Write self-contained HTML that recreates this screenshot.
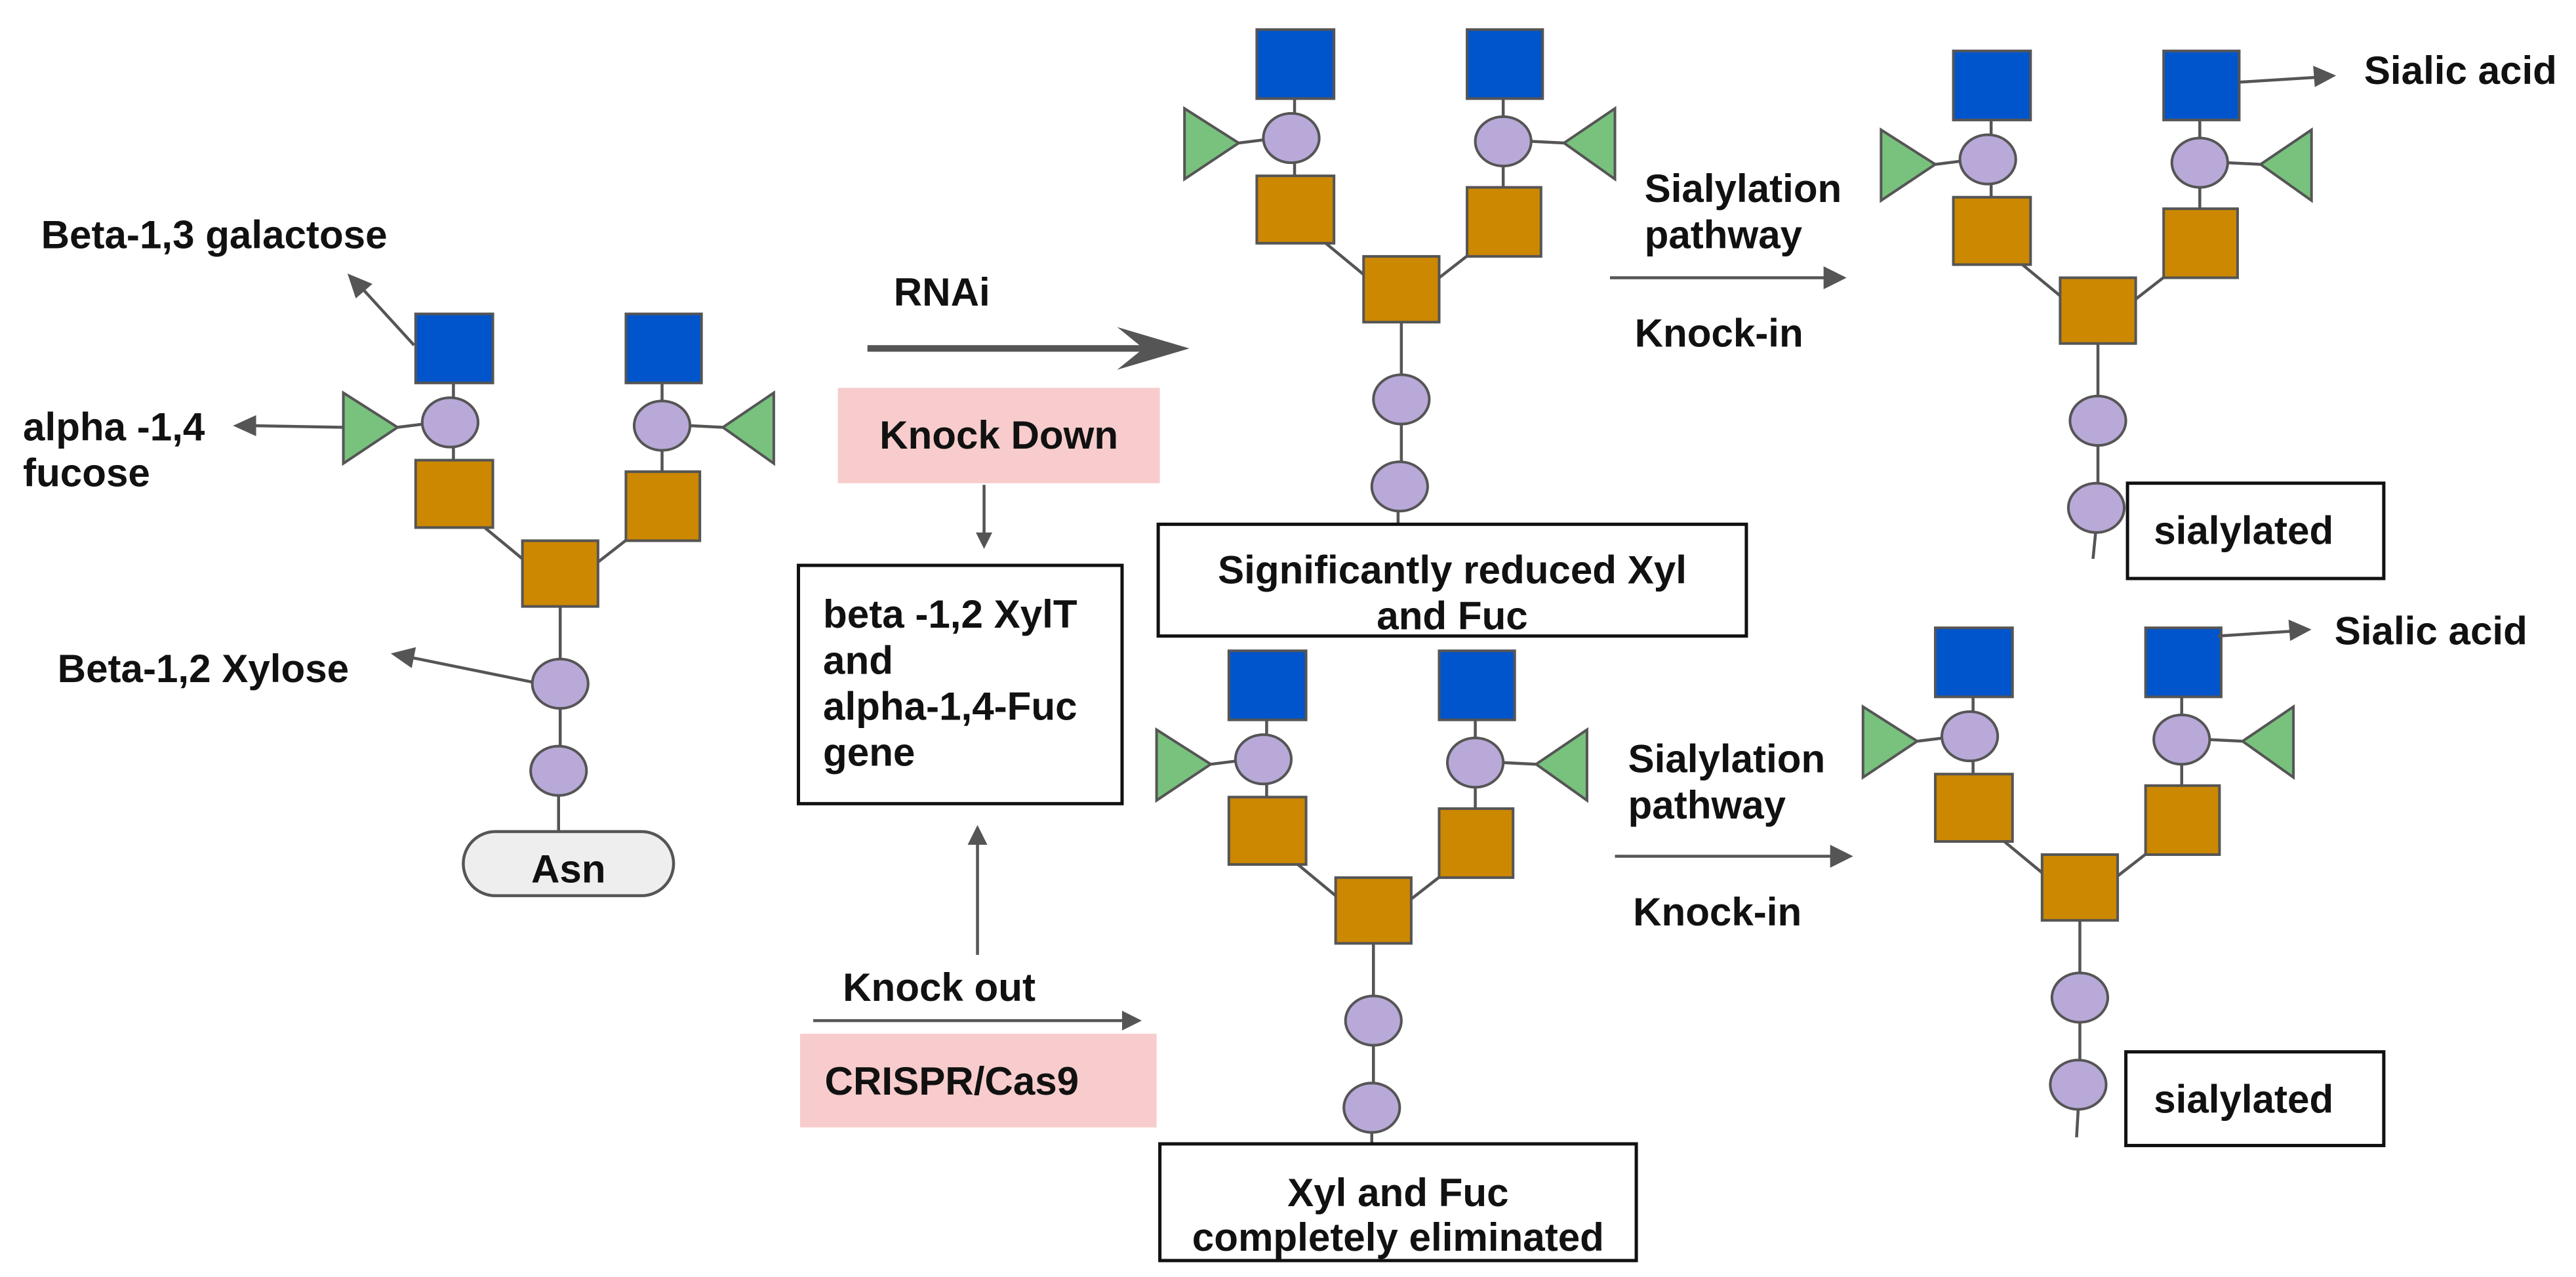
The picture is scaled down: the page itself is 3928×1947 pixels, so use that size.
<!DOCTYPE html>
<html><head><meta charset="utf-8"><style>
html,body{margin:0;padding:0;background:#fff}
svg{display:block}
text{font-family:"Liberation Sans",Arial,sans-serif;font-weight:bold;font-size:24px;fill:#111}
</style></head><body>
<svg width="3928" height="1947" viewBox="0 0 1568 777" preserveAspectRatio="none" xmlns="http://www.w3.org/2000/svg">
<defs>
<marker id="ah" viewBox="0 0 10 10" refX="9" refY="5" markerWidth="5" markerHeight="5" orient="auto" markerUnits="userSpaceOnUse">
</marker>
<g id="gly">
 <g stroke="#555" stroke-width="1.8" fill="none">
  <line x1="276" y1="233" x2="276" y2="280"/>
  <line x1="403" y1="233" x2="403" y2="287"/>
  <line x1="242" y1="260" x2="258" y2="258"/>
  <line x1="420" y1="259" x2="440" y2="260"/>
  <line x1="295" y1="321" x2="318" y2="340"/>
  <line x1="382" y1="328" x2="364" y2="342"/>
  <line x1="341" y1="369" x2="341" y2="470"/>
 </g>
 <g stroke="#555" stroke-width="1.6">
  <rect x="253" y="191" width="47" height="42" fill="#0055cc"/>
  <rect x="381" y="191" width="46" height="42" fill="#0055cc"/>
  <polygon points="209,239 209,282 242,260" fill="#78c27e"/>
  <polygon points="471,239 471,282 440,260" fill="#78c27e"/>
  <ellipse cx="274" cy="257" rx="17" ry="15" fill="#b8a9d8"/>
  <ellipse cx="403" cy="259" rx="17" ry="15" fill="#b8a9d8"/>
  <rect x="253" y="280" width="47" height="41" fill="#cc8800"/>
  <rect x="381" y="287" width="45" height="42" fill="#cc8800"/>
  <rect x="318" y="329" width="46" height="40" fill="#cc8800"/>
  <ellipse cx="341" cy="416" rx="17" ry="15" fill="#b8a9d8"/>
  <ellipse cx="340" cy="469" rx="17" ry="15" fill="#b8a9d8"/>
 </g>
</g>
</defs>

<!-- glycan 1 -->
<line x1="340" y1="484" x2="340" y2="506" stroke="#555" stroke-width="1.8"/>
<use href="#gly"/>
<rect x="282" y="506" width="128" height="39" rx="19.5" fill="#eeeeee" stroke="#555" stroke-width="1.8"/>
<text x="346" y="537" text-anchor="middle" font-size="25">Asn</text>

<g stroke="#555" stroke-width="1.8" fill="#555">
 <line x1="252" y1="210" x2="220" y2="175"/><polygon points="213,168 225,173 217,180"/>
 <line x1="209" y1="260" x2="153" y2="259"/><polygon points="144,259 155,254 155,264"/>
 <line x1="324" y1="415" x2="250" y2="400"/><polygon points="240,398 252,395 250,405"/>
</g>
<text x="25" y="151">Beta-1,3 galactose</text>
<text x="14" y="268">alpha -1,4</text>
<text x="14" y="296">fucose</text>
<text x="35" y="415">Beta-1,2 Xylose</text>

<!-- middle column -->
<text x="544" y="186">RNAi</text>
<line x1="528" y1="212" x2="716" y2="212" stroke="#555" stroke-width="4"/>
<polygon points="680,199 724,212 680,225 696,212" fill="#555"/>
<rect x="510" y="236" width="196" height="58" fill="#f8cccc"/>
<text x="608" y="273" text-anchor="middle">Knock Down</text>
<line x1="599" y1="295" x2="599" y2="326" stroke="#555" stroke-width="1.8"/>
<polygon points="594,324 604,324 599,334" fill="#555"/>
<rect x="486" y="344" width="197" height="145" fill="#fff" stroke="#111" stroke-width="2"/>
<text x="501" y="382">beta -1,2 XylT</text>
<text x="501" y="410">and</text>
<text x="501" y="438">alpha-1,4-Fuc</text>
<text x="501" y="466">gene</text>
<line x1="595" y1="581" x2="595" y2="512" stroke="#555" stroke-width="1.8"/>
<polygon points="589,514 601,514 595,502" fill="#555"/>
<text x="513" y="609">Knock out</text>
<line x1="495" y1="621" x2="686" y2="621" stroke="#555" stroke-width="1.8"/>
<polygon points="683,615 695,621 683,627" fill="#555"/>
<rect x="487" y="629" width="217" height="57" fill="#f8cccc"/>
<text x="502" y="666">CRISPR/Cas9</text>

<!-- glycan 2 -->
<line x1="851" y1="310" x2="851" y2="319" stroke="#555" stroke-width="1.8"/>
<use href="#gly" transform="translate(512,-173)"/>
<rect x="705" y="319" width="358" height="68" fill="#fff" stroke="#111" stroke-width="2"/>
<text x="884" y="355" text-anchor="middle">Significantly reduced Xyl</text>
<text x="884" y="383" text-anchor="middle">and Fuc</text>

<!-- glycan 4 -->
<line x1="835" y1="688" x2="835" y2="696" stroke="#555" stroke-width="1.8"/>
<use href="#gly" transform="translate(495,205)"/>
<rect x="706" y="696" width="290" height="71" fill="#fff" stroke="#111" stroke-width="2"/>
<text x="851" y="734" text-anchor="middle">Xyl and Fuc</text>
<text x="851" y="761" text-anchor="middle">completely eliminated</text>

<!-- sialylation arrows -->
<text x="1001" y="123">Sialylation</text>
<text x="1001" y="151">pathway</text>
<line x1="980" y1="169" x2="1112" y2="169" stroke="#555" stroke-width="1.8"/>
<polygon points="1110,162 1124,169 1110,176" fill="#555"/>
<text x="995" y="211">Knock-in</text>

<text x="991" y="470">Sialylation</text>
<text x="991" y="498">pathway</text>
<line x1="983" y1="521" x2="1116" y2="521" stroke="#555" stroke-width="1.8"/>
<polygon points="1114,514 1128,521 1114,528" fill="#555"/>
<text x="994" y="563">Knock-in</text>

<!-- glycan 3 -->
<line x1="1276" y1="320" x2="1274" y2="340" stroke="#555" stroke-width="1.8"/>
<use href="#gly" transform="translate(936,-160)"/>
<line x1="1363" y1="50" x2="1411" y2="47" stroke="#555" stroke-width="1.8"/>
<polygon points="1408,40 1422,46 1409,53" fill="#555"/>
<text x="1439" y="51">Sialic acid</text>
<rect x="1295" y="294" width="156" height="58" fill="#fff" stroke="#111" stroke-width="2"/>
<text x="1311" y="331">sialylated</text>

<!-- glycan 5 -->
<line x1="1265" y1="675" x2="1264" y2="692" stroke="#555" stroke-width="1.8"/>
<use href="#gly" transform="translate(925,191)"/>
<line x1="1350" y1="387" x2="1396" y2="384" stroke="#555" stroke-width="1.8"/>
<polygon points="1393,377 1407,383 1394,390" fill="#555"/>
<text x="1421" y="392">Sialic acid</text>
<rect x="1294" y="640" width="157" height="57" fill="#fff" stroke="#111" stroke-width="2"/>
<text x="1311" y="677">sialylated</text>
</svg>
</body></html>
